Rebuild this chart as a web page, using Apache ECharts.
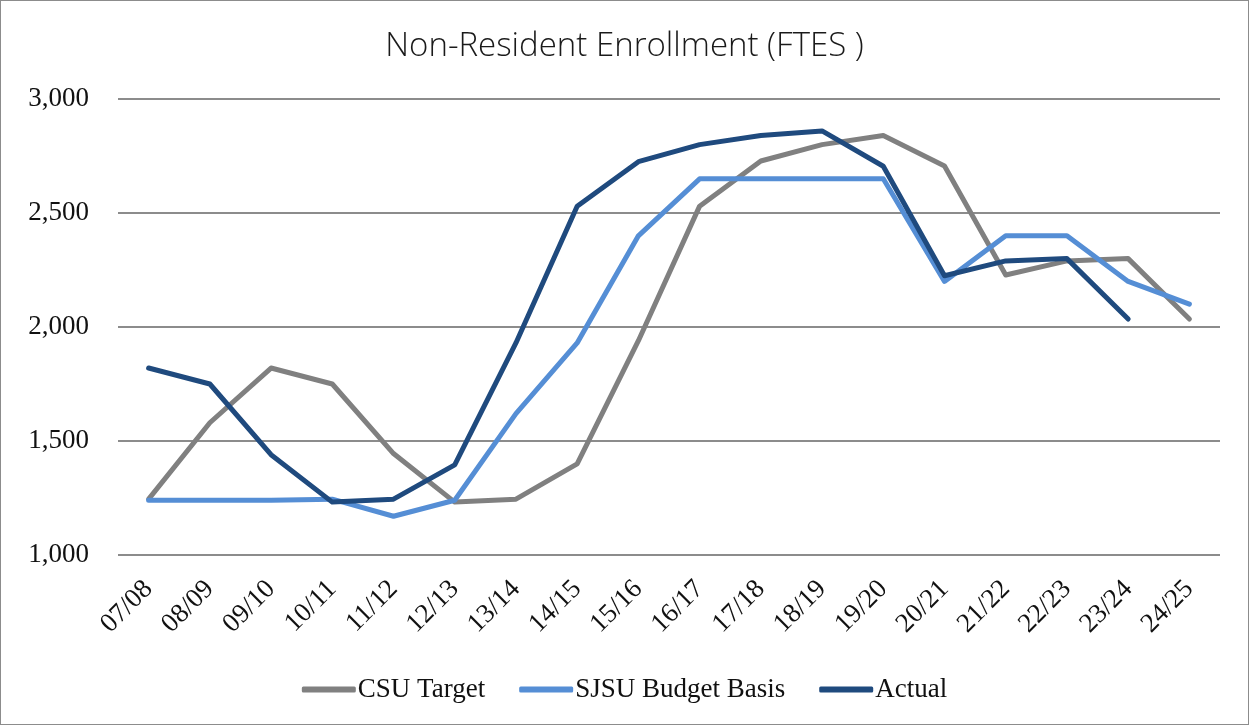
<!DOCTYPE html>
<html><head><meta charset="utf-8">
<script src="https://cdn.jsdelivr.net/npm/echarts@6/dist/echarts.min.js"></script>
<style>
html,body{margin:0;padding:0;background:#fff;}
#c{width:1247px;height:723px;border:1px solid #8c8c8c;}
</style></head>
<body><div id="c"></div>
<script>
const categories = ["07/08","08/09","09/10","10/11","11/12","12/13","13/14","14/15","15/16","16/17","17/18","18/19","19/20","20/21","21/22","22/23","23/24","24/25"];
const csuTarget = [1245,1580,1820,1750,1445,1232,1245,1400,1940,2530,2728,2800,2840,2706,2228,2290,2300,2035];
const sjsuBudget = [1240,1240,1240,1245,1170,1240,1620,1930,2400,2650,2650,2650,2650,2200,2400,2400,2200,2100];
const actual = [1820,1750,1440,1232,1245,1395,1930,2530,2725,2800,2840,2860,2705,2225,2290,2300,2035,null];
const yTicks = {min:1000,max:3000,interval:500};

const chart = echarts.init(document.getElementById('c'));
const mk = (name, data, color) => ({
  name, type:'line', data, symbol:'none', smooth:false,
  lineStyle:{width:5, color, cap:'round', join:'round'}, itemStyle:{color}
});
chart.setOption({
  animation:false,
  title:{text:'Non-Resident Enrollment (FTES )', left:'center', top:24,
    textStyle:{fontFamily:'Open Sans', fontWeight:300, fontSize:33, color:'#1a1a1a'}},
  grid:{left:117, right:28, top:98, bottom:169},
  xAxis:{type:'category', data:categories, boundaryGap:true,
    axisLine:{show:false}, axisTick:{show:false},
    axisLabel:{rotate:45, fontFamily:'Liberation Serif', fontSize:27, color:'#111', margin:30}},
  yAxis:{type:'value', min:yTicks.min, max:yTicks.max, interval:yTicks.interval,
    axisLine:{show:false}, axisTick:{show:false},
    axisLabel:{fontFamily:'Liberation Serif', fontSize:27, color:'#111', margin:29,
      formatter:v=>v.toLocaleString('en-US')},
    splitLine:{lineStyle:{color:'#8c8c8c', width:2}}},
  legend:{top:670, left:'center', itemWidth:54, itemHeight:6, itemGap:34,
    icon:'roundRect',
    textStyle:{fontFamily:'Liberation Serif', fontSize:27, color:'#111', padding:[0,0,0,-3]},
    data:['CSU Target','SJSU Budget Basis','Actual']},
  series:[
    mk('CSU Target', csuTarget, '#808080'),
    mk('SJSU Budget Basis', sjsuBudget, '#558ed5'),
    mk('Actual', actual, '#1f4a7e')
  ]
});
</script></body></html>
